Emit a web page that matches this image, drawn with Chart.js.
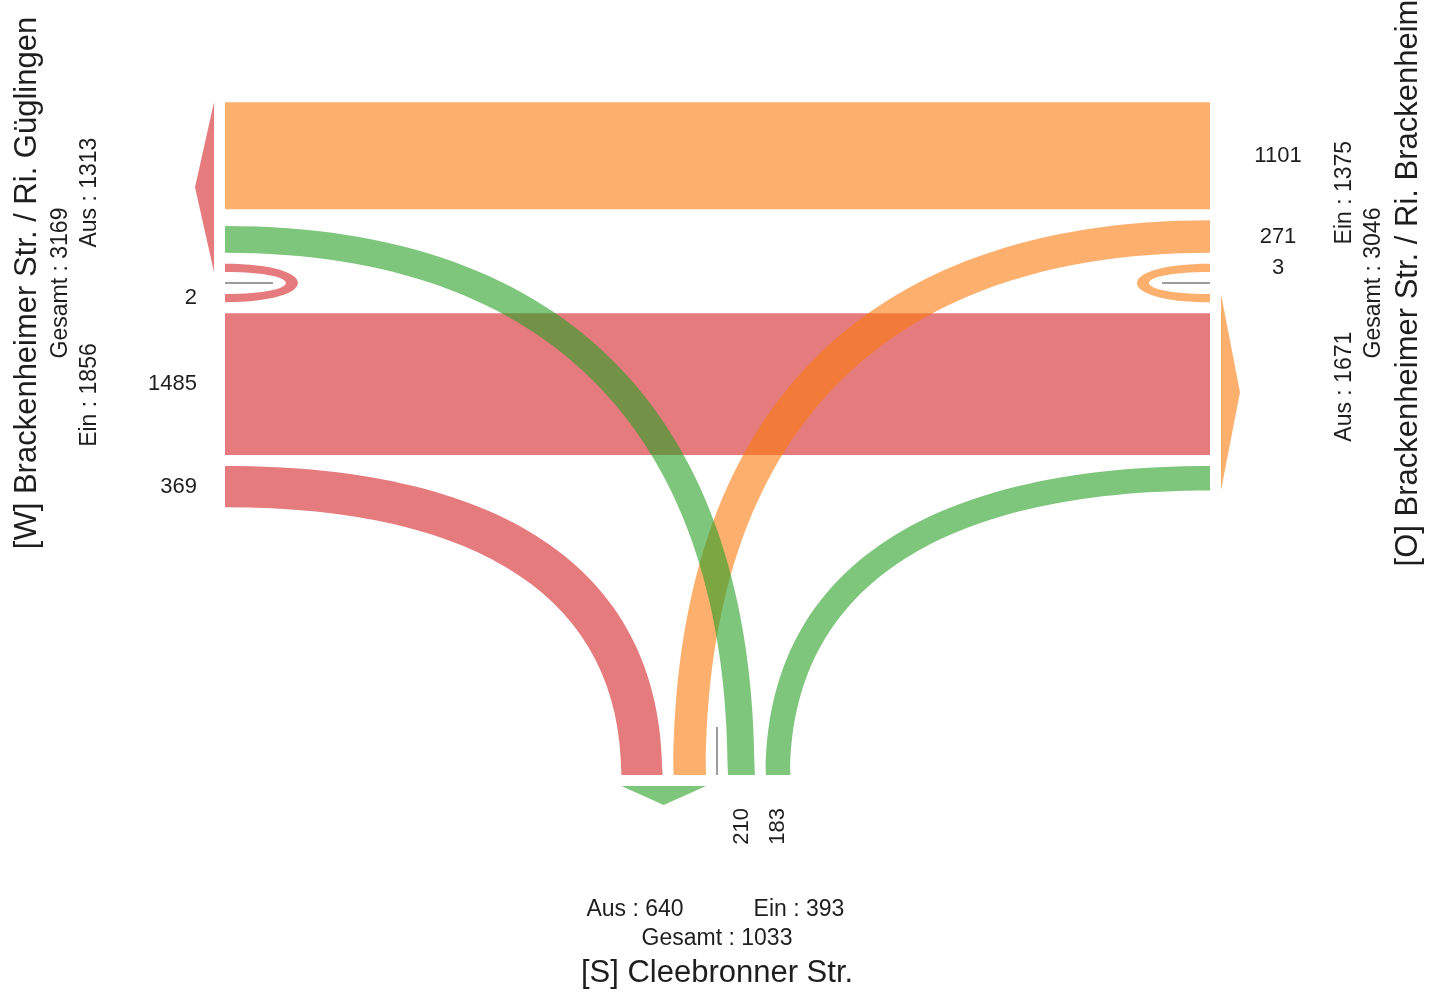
<!DOCTYPE html>
<html>
<head>
<meta charset="utf-8">
<title>Knotenstrom</title>
<script src="https://cdn.jsdelivr.net/npm/chart.js@4.4.1/dist/chart.umd.min.js"></script>
<style>
  html, body { margin: 0 ; padding: 0 ; background: #ffffff ; }
  #flowCanvas { display: block ; }
</style>
</head>
<body>
<canvas id="flowCanvas" width="1440" height="992"></canvas>
<script>

// ---------------- Data -------------------------------------------------------
var armCodes   = [ 'W', 'O', 'S' ] ;
var armTitles  = [ '[W] Brackenheimer Str. / Ri. Güglingen',
                   '[O] Brackenheimer Str. / Ri. Brackenheim',
                   '[S] Cleebronner Str.' ] ;

var flowFrom   = [ 'W', 'W', 'W', 'O', 'O', 'O', 'S', 'S', 'S' ] ;
var flowTo     = [ 'W', 'O', 'S', 'O', 'W', 'S', 'S', 'W', 'O' ] ;
var flowValues = [ 2, 1485, 369, 3, 1101, 271, 0, 210, 183 ] ;

var lblAus    = 'Aus' ;
var lblEin    = 'Ein' ;
var lblTotal  = 'Gesamt' ;

// ---------------- Layout & style ---------------------------------------------
var armColors = {
    W : 'rgba(212, 35, 38, 0.6)',
    O : 'rgba(252, 123, 13, 0.6)',
    S : 'rgba(38, 160, 35, 0.6)'
} ;

// pos = where the bands end, center = middle of the arm (U-turn line)
var armGeo = {
    W : { side: 'left',   pos: 225,  center: 283, numDepth: -28, numAlign: 'right'  },
    O : { side: 'right',  pos: 1210, center: 283, numDepth: -68, numAlign: 'center' },
    S : { side: 'bottom', pos: 775,  center: 717, numDepth: -33, numAlign: 'right'  }
} ;

// band order from the centre outwards ; neg = up (W, O) or left (S)
var armSlots = {
    W : { neg: [ 'S>W', 'O>W' ], pos: [ 'W>O', 'W>S' ] },
    O : { neg: [ 'O>S', 'O>W' ], pos: [ 'W>O', 'S>O' ] },
    S : { neg: [ 'O>S', 'W>S' ], pos: [ 'S>W', 'S>O' ] }
} ;

var GAP          = 11 ;
var LOOP_INNER   = 22 ;
var LOOP_LEN     = 73 ;
var BEND         = 0.65 ;
var ARROW_INSET  = 11 ;
var FONT         = "'Liberation Sans', Arial, sans-serif" ;
var TEXT_COLOR   = '#1e1e1e' ;

function bandWidth( v ) {
    return 8 + 0.09 * v ;
}

// ---------------- Helpers ----------------------------------------------------
function valueOf( key ) {
    var p = key.split( '>' ) ;
    for( var i = 0; i < flowValues.length; i++ ) {
        if( flowFrom[i] == p[0] && flowTo[i] == p[1] ) {
            return flowValues[i] ;
        }
    }
    return 0 ;
}

function armTotal( arm, list ) {
    var sum = 0 ;
    for( var i = 0; i < list.length; i++ ) {
        if( list[i] == arm ) sum += flowValues[i] ;
    }
    return sum ;
}

function exitSign( arm ) {
    return armSlots[arm].neg[0].split( '>' )[1] == arm ? -1 : 1 ;
}

function stackArm( arm, minStart ) {
    var u = valueOf( arm + '>' + arm ) ;
    var half = u > 0 ? bandWidth( u ) + LOOP_INNER / 2 : 0 ;
    var bands = {} ;
    var outer = { neg: half, pos: half } ;

    [ 'neg', 'pos' ].forEach( function( side ) {
        var sign = side == 'neg' ? -1 : 1 ;
        var off = half + GAP ;
        armSlots[arm][side].forEach( function( key ) {
            if( minStart[key] != null ) off = Math.max( off, minStart[key] ) ;
            var w = bandWidth( valueOf( key ) ) ;
            bands[key] = { start: off, end: off + w, sign: sign } ;
            outer[side] = off + w ;
            off += w + GAP ;
        } ) ;
    } ) ;
    return { uturn: u, half: half, bands: bands, outer: outer } ;
}

function buildLayout() {
    var lay = {}, minStart = {} ;
    armCodes.forEach( function( a ) { lay[a] = stackArm( a, {} ) ; } ) ;
    // through flows W <-> O are kept level
    [ 'W>O', 'O>W' ].forEach( function( key ) {
        minStart[key] = Math.max( lay.W.bands[key].start, lay.O.bands[key].start ) ;
    } ) ;
    armCodes.forEach( function( a ) { lay[a] = stackArm( a, minStart ) ; } ) ;
    return lay ;
}

function armPoint( arm, along, depth ) {
    var g = armGeo[arm] ;
    if( g.side == 'left' )  return { x: g.pos + depth, y: g.center + along } ;
    if( g.side == 'right' ) return { x: g.pos - depth, y: g.center + along } ;
    return { x: g.center + along, y: g.pos - depth } ;
}

// ---------------- Drawing plugin ---------------------------------------------
var flowPlugin = {
    id : 'junctionFlows',
    afterDatasetsDraw : function( chart ) {

        var ctx = chart.ctx ;
        var xs = chart.scales.x, ys = chart.scales.y ;
        var lay = buildLayout() ;

        function px( pt ) {
            return { x: xs.getPixelForValue( pt.x ), y: ys.getPixelForValue( pt.y ) } ;
        }
        function ap( arm, along, depth ) {
            return px( armPoint( arm, along, depth ) ) ;
        }
        function alongRange( arm, key ) {
            var b = lay[arm].bands[key] ;
            return [ b.sign * b.start, b.sign * b.end ] ;
        }

        function drawStraight( key ) {
            var rw = alongRange( 'W', key ), ro = alongRange( 'O', key ) ;
            var p0 = ap( 'W', rw[0], 0 ), p1 = ap( 'O', ro[0], 0 ),
                p2 = ap( 'O', ro[1], 0 ), p3 = ap( 'W', rw[1], 0 ) ;
            ctx.beginPath() ;
            ctx.moveTo( p0.x, p0.y ) ;
            ctx.lineTo( p1.x, p1.y ) ;
            ctx.lineTo( p2.x, p2.y ) ;
            ctx.lineTo( p3.x, p3.y ) ;
            ctx.closePath() ;
            ctx.fill() ;
        }

        function drawCurve( key, sideArm ) {
            var ra = alongRange( sideArm, key ), rs = alongRange( 'S', key ) ;
            var a0 = ap( sideArm, ra[0], 0 ), a1 = ap( sideArm, ra[1], 0 ) ;
            var s0 = ap( 'S', rs[0], 0 ),     s1 = ap( 'S', rs[1], 0 ) ;
            var corner = { x: a0.x, y: s0.y } ;
            // inner edges are those closer to the corner
            var aIn  = Math.abs( a0.y - corner.y ) < Math.abs( a1.y - corner.y ) ? a0 : a1 ;
            var aOut = aIn === a0 ? a1 : a0 ;
            var sIn  = Math.abs( s0.x - corner.x ) < Math.abs( s1.x - corner.x ) ? s0 : s1 ;
            var sOut = sIn === s0 ? s1 : s0 ;

            ctx.beginPath() ;
            ctx.moveTo( aOut.x, aOut.y ) ;
            ctx.bezierCurveTo( aOut.x + BEND * ( sOut.x - aOut.x ), aOut.y,
                               sOut.x, sOut.y + BEND * ( aOut.y - sOut.y ),
                               sOut.x, sOut.y ) ;
            ctx.lineTo( sIn.x, sIn.y ) ;
            ctx.bezierCurveTo( sIn.x, sIn.y + BEND * ( aIn.y - sIn.y ),
                               aIn.x + BEND * ( sIn.x - aIn.x ), aIn.y,
                               aIn.x, aIn.y ) ;
            ctx.closePath() ;
            ctx.fill() ;
        }

        function drawLoop( arm ) {
            var L = lay[arm] ;
            if( L.uturn <= 0 ) return ;
            var w = bandWidth( L.uturn ), h = L.half ;
            var d1 = LOOP_LEN * 4 / 3, d2 = ( LOOP_LEN - 12 ) * 4 / 3 ;
            var a0 = ap( arm, -h, 0 ),  a1 = ap( arm, -h, d1 ),
                a2 = ap( arm,  h, d1 ), a3 = ap( arm,  h, 0 ) ;
            var b0 = ap( arm,  h - w, 0 ),  b1 = ap( arm,  h - w, d2 ),
                b2 = ap( arm, -h + w, d2 ), b3 = ap( arm, -h + w, 0 ) ;
            ctx.beginPath() ;
            ctx.moveTo( a0.x, a0.y ) ;
            ctx.bezierCurveTo( a1.x, a1.y, a2.x, a2.y, a3.x, a3.y ) ;
            ctx.lineTo( b0.x, b0.y ) ;
            ctx.bezierCurveTo( b1.x, b1.y, b2.x, b2.y, b3.x, b3.y ) ;
            ctx.closePath() ;
            ctx.fill() ;
        }

        function drawArrow( arm ) {
            var sign = exitSign( arm ) ;
            var side = sign < 0 ? 'neg' : 'pos' ;
            var s1 = sign * ARROW_INSET, s2 = sign * lay[arm].outer[side] ;
            var p0 = ap( arm, s1, -11 ), p1 = ap( arm, s2, -11 ),
                tip = ap( arm, ( s1 + s2 ) / 2, -30 ) ;
            ctx.fillStyle = armColors[arm] ;
            ctx.beginPath() ;
            ctx.moveTo( p0.x, p0.y ) ;
            ctx.lineTo( tip.x, tip.y ) ;
            ctx.lineTo( p1.x, p1.y ) ;
            ctx.closePath() ;
            ctx.fill() ;
        }

        function drawUturnLine( arm ) {
            var p0 = ap( arm, 0, 0 ), p1 = ap( arm, 0, 48 ) ;
            ctx.strokeStyle = '#9c9c9c' ;
            ctx.lineWidth = 2 ;
            ctx.beginPath() ;
            ctx.moveTo( p0.x, p0.y ) ;
            ctx.lineTo( p1.x, p1.y ) ;
            ctx.stroke() ;
        }

        function text( str, pt, size, align, rotated ) {
            ctx.save() ;
            ctx.font = size + 'px ' + FONT ;
            ctx.fillStyle = TEXT_COLOR ;
            ctx.textAlign = align ;
            ctx.textBaseline = 'middle' ;
            ctx.translate( pt.x, pt.y ) ;
            if( rotated ) ctx.rotate( -Math.PI / 2 ) ;
            ctx.fillText( str, 0, 0 ) ;
            ctx.restore() ;
        }

        ctx.save() ;

        // --- bands, grouped by origin arm
        armCodes.forEach( function( arm ) {
            ctx.fillStyle = armColors[arm] ;
            for( var i = 0; i < flowValues.length; i++ ) {
                if( flowFrom[i] != arm ) continue ;
                var key = flowFrom[i] + '>' + flowTo[i] ;
                if( flowFrom[i] == flowTo[i] ) {
                    drawLoop( arm ) ;
                }
                else if( flowFrom[i] != 'S' && flowTo[i] != 'S' ) {
                    drawStraight( key ) ;
                }
                else {
                    drawCurve( key, flowFrom[i] == 'S' ? flowTo[i] : flowFrom[i] ) ;
                }
            }
        } ) ;

        armCodes.forEach( function( arm ) {
            drawArrow( arm ) ;
            drawUturnLine( arm ) ;
        } ) ;

        // --- entry values at each arm
        armCodes.forEach( function( arm ) {
            var g = armGeo[arm], L = lay[arm] ;
            var eSign = -exitSign( arm ) ;
            var vertical = g.side == 'bottom' ;
            for( var i = 0; i < flowValues.length; i++ ) {
                if( flowFrom[i] != arm || flowValues[i] <= 0 ) continue ;
                var key = flowFrom[i] + '>' + flowTo[i] ;
                var along ;
                if( flowFrom[i] == flowTo[i] ) {
                    along = eSign * ( L.half - bandWidth( flowValues[i] ) / 2 ) ;
                }
                else {
                    var b = L.bands[key] ;
                    along = b.sign * ( b.start + b.end ) / 2 ;
                }
                text( String( flowValues[i] ), ap( arm, along, g.numDepth ), 22, g.numAlign, vertical ) ;
            }
        } ) ;

        // --- arm titles and totals
        armCodes.forEach( function( arm, idx ) {
            var g = armGeo[arm], L = lay[arm] ;
            var aus = armTotal( arm, flowTo ), ein = armTotal( arm, flowFrom ) ;
            var xSign = exitSign( arm ) ;
            var rotated = g.side != 'bottom' ;
            var ausAlong, einAlong ;
            if( rotated ) {
                ausAlong = xSign * L.outer[ xSign < 0 ? 'neg' : 'pos' ] / 2 ;
                einAlong = -xSign * L.outer[ xSign < 0 ? 'pos' : 'neg' ] / 2 ;
            }
            else {
                ausAlong = xSign * 82 ;
                einAlong = -xSign * 82 ;
            }
            text( lblAus + ' : ' + aus, ap( arm, ausAlong, -135 ), 23, 'center', rotated ) ;
            text( lblEin + ' : ' + ein, ap( arm, einAlong, -135 ), 23, 'center', rotated ) ;
            text( lblTotal + ' : ' + ( aus + ein ), ap( arm, 0, -164 ), 23, 'center', rotated ) ;
            text( armTitles[idx], ap( arm, 0, -198 ), 31, 'center', rotated ) ;
        } ) ;

        ctx.restore() ;
    }
} ;

// ---------------- Chart ------------------------------------------------------
var canvas = document.getElementById( 'flowCanvas' ) ;
var chart = new Chart( canvas, {
    type : 'scatter',
    data : { datasets : [ { data : [] } ] },
    options : {
        responsive : false,
        animation : false,
        layout : { padding : 0 },
        plugins : {
            legend  : { display : false },
            tooltip : { enabled : false }
        },
        scales : {
            x : { type : 'linear', min : 0, max : 1440, display : false },
            y : { type : 'linear', min : 0, max : 992, reverse : true, display : false }
        }
    },
    plugins : [ flowPlugin ]
} ) ;

</script>
</body>
</html>
